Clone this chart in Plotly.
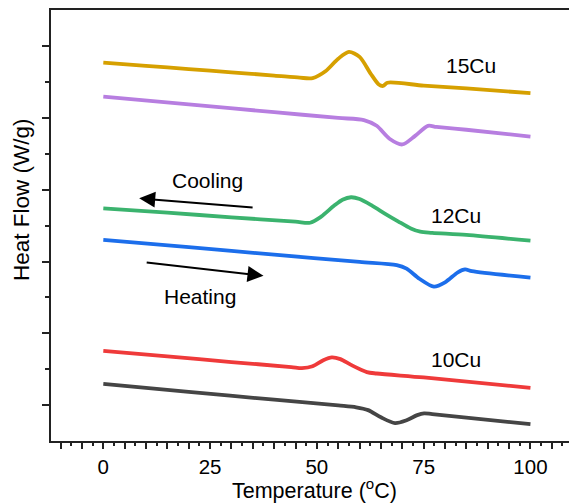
import plotly.graph_objects as go

# ---- data ----
t_15c = [0, 10, 20, 30, 40, 46, 49, 52, 55, 57.5, 60, 62.5, 64.5, 65.5, 66.5, 75, 85, 100]
h_15c = [10.54, 10.45, 10.36, 10.27, 10.18, 10.12, 10.11, 10.30, 10.65, 10.84, 10.70, 10.25, 9.93, 9.89, 9.98, 9.90, 9.82, 9.69]

t_15h = [0, 20, 40, 55, 61, 64, 67, 70, 73, 76, 78, 85, 100]
h_15h = [9.59, 9.38, 9.16, 9.00, 8.94, 8.78, 8.42, 8.26, 8.50, 8.78, 8.75, 8.67, 8.48]

t_12c = [0, 15, 30, 45, 48.4, 51, 54, 56, 58, 60, 63, 66, 69, 72, 74.2, 77, 85, 100]
h_12c = [6.48, 6.36, 6.23, 6.11, 6.08, 6.25, 6.55, 6.72, 6.79, 6.74, 6.55, 6.33, 6.12, 5.92, 5.83, 5.80, 5.74, 5.58]

t_12h = [0, 20, 40, 60, 68.7, 71, 74, 77.4, 80, 83, 84.7, 86.3, 100]
h_12h = [5.60, 5.40, 5.19, 4.99, 4.90, 4.80, 4.52, 4.30, 4.42, 4.70, 4.78, 4.73, 4.55]

t_10c = [0, 15, 30, 44, 46.5, 49, 51.5, 53.5, 55.5, 58, 61.7, 64, 75, 100]
h_10c = [2.51, 2.36, 2.20, 2.06, 2.03, 2.08, 2.25, 2.33, 2.28, 2.12, 1.92, 1.88, 1.77, 1.48]

t_10h = [0, 20, 40, 55, 59.2, 62, 65, 68.3, 71, 73.5, 75.1, 77, 100]
h_10h = [1.59, 1.37, 1.15, 0.99, 0.94, 0.86, 0.66, 0.50, 0.58, 0.72, 0.77, 0.75, 0.47]

series = [
    ("15Cu cooling", t_15c, h_15c, "#D6A000"),
    ("15Cu heating", t_15h, h_15h, "#B77EE0"),
    ("12Cu cooling", t_12c, h_12c, "#3BB36E"),
    ("12Cu heating", t_12h, h_12h, "#1C6EEB"),
    ("10Cu cooling", t_10c, h_10c, "#EF3A3A"),
    ("10Cu heating", t_10h, h_10h, "#454545"),
]

sample_labels = ["15Cu", "12Cu", "10Cu"]
label_x = [86.1, 82.6, 82.6]
label_y = [10.45, 6.27, 2.26]

x_label_vals = [0, 25, 50, 75, 100]

FONT = "Liberation Sans, Arial, sans-serif"
OFF = 8  # page body margin
W, H = 577 - OFF, 503 - OFF
L, R, T, B = 51 - OFF, 0, 10 - OFF, 503 - 441
PW, PH = W - L - R, H - T - B


def px_to_paper(sx, sy):
    fx, fy = sx - OFF, sy - OFF
    return (fx - L) / PW, (H - B - fy) / PH


fig = go.Figure()
for name, t, h, c in series:
    fig.add_trace(go.Scatter(x=t, y=h, mode="lines", name=name,
                             line=dict(color=c, width=3.8, shape="spline", smoothing=0.8),
                             showlegend=False, hoverinfo="skip"))

for s, lx, ly in zip(sample_labels, label_x, label_y):
    fig.add_annotation(x=lx, y=ly, text=s, showarrow=False,
                       font=dict(family=FONT, size=21, color="black"))

# Cooling / Heating arrows and text
fig.add_annotation(x=8.4, y=6.76, ax=35.3, ay=6.50, xref="x", yref="y",
                   axref="x", ayref="y", text="", showarrow=True,
                   arrowhead=2, arrowsize=1.6, arrowwidth=2, arrowcolor="black")
fig.add_annotation(x=37.5, y=4.60, ax=9.8, ay=4.98, xref="x", yref="y",
                   axref="x", ayref="y", text="", showarrow=True,
                   arrowhead=2, arrowsize=1.6, arrowwidth=2, arrowcolor="black")
fig.add_annotation(x=24.5, y=7.27, text="Cooling", showarrow=False,
                   font=dict(family=FONT, size=21, color="black"))
fig.add_annotation(x=22.6, y=4.03, text="Heating", showarrow=False,
                   font=dict(family=FONT, size=21, color="black"))

# axis titles as paper annotations
yx, yy = px_to_paper(22, 200)
fig.add_annotation(x=yx, y=yy, xref="paper", yref="paper", text="Heat Flow (W/g)",
                   showarrow=False, textangle=-90, xanchor="center", yanchor="middle",
                   font=dict(family=FONT, size=22.5, color="black"))
tx, ty = px_to_paper(314, 489)
fig.add_annotation(x=tx, y=ty, xref="paper", yref="paper", text="Temperature (<sup>o</sup>C)",
                   showarrow=False, xanchor="center", yanchor="middle",
                   font=dict(family=FONT, size=21.5, color="black"))

x_tickvals = list(range(-10, 115, 5))
x_ticktext = [str(v) if v in x_label_vals else "" for v in x_tickvals]

fig.update_layout(
    width=W, height=H,
    margin=dict(l=L, r=R, t=T, b=B, autoexpand=False),
    plot_bgcolor="white", paper_bgcolor="white",
    font=dict(family=FONT, size=20, color="black"),
    xaxis=dict(range=[-12.25, 110.9], tickvals=x_tickvals, ticktext=x_ticktext,
               ticks="outside", ticklen=6, tickwidth=1.5, tickcolor="#222",
               showline=True, linecolor="#222", linewidth=2, mirror=True,
               showgrid=False, zeroline=False, automargin=False,
               minor=dict(dtick=2.5, tick0=0, ticks="outside", ticklen=3,
                          tickwidth=1.5, tickcolor="#222", showgrid=False),
               tickfont=dict(family=FONT, size=20.5)),
    yaxis=dict(range=[0, 12.006], tickvals=[1, 3, 5, 7, 9, 11], showticklabels=False,
               ticks="outside", ticklen=7, tickwidth=1.5, tickcolor="#222",
               showline=True, linecolor="#222", linewidth=2,
               showgrid=False, zeroline=False, automargin=False,
               minor=dict(tickvals=[2, 4, 6, 8, 10], ticks="outside", ticklen=4,
                          tickwidth=1.5, tickcolor="#222", showgrid=False)),
)

fig.write_html("out.html")
